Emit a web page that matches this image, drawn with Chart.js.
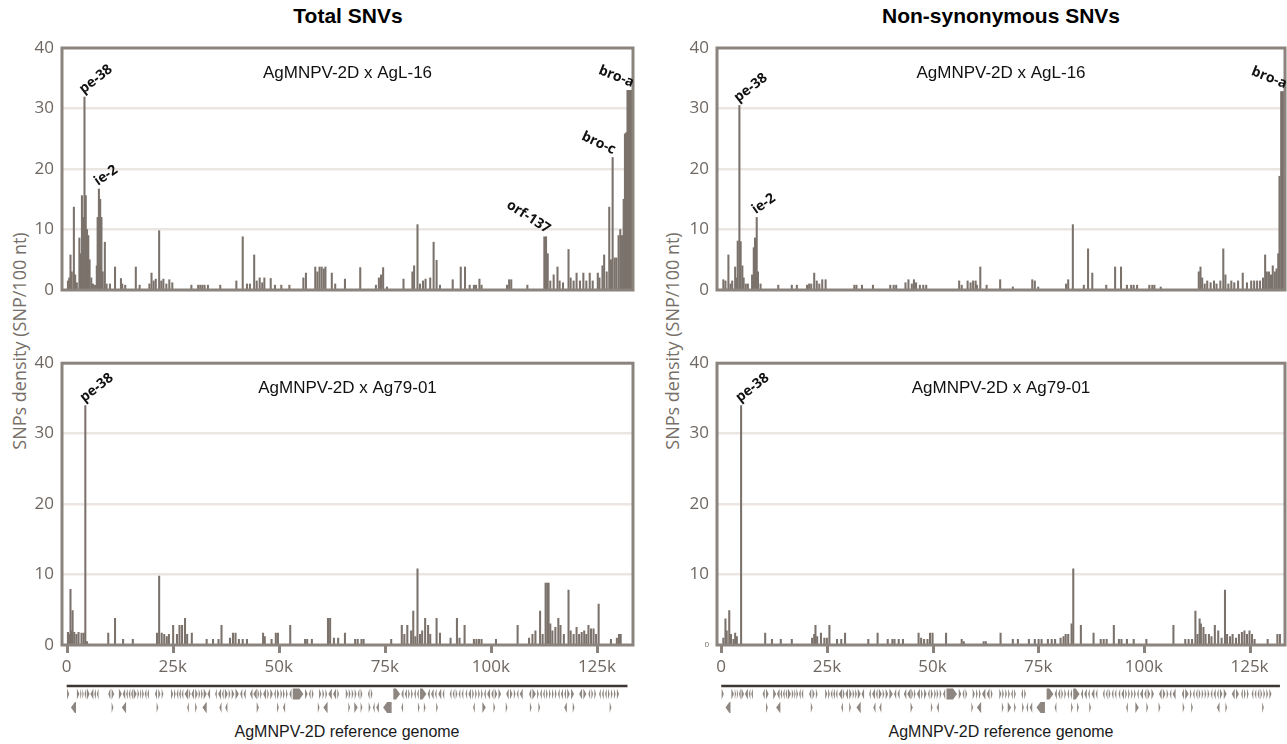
<!DOCTYPE html>
<html><head><meta charset="utf-8">
<script src="https://cdn.jsdelivr.net/npm/chart.js@4.4.1/dist/chart.umd.min.js"></script>
<style>
html,body{margin:0;padding:0;background:#fff;width:1287px;height:744px;overflow:hidden;position:relative}
canvas{position:absolute}
.t{position:absolute;white-space:nowrap;transform:translate(-50%,-50%)}
.title{font:bold 21px "Liberation Sans",Arial,sans-serif;color:#000}
.ytitle{font:18px "Open Sans",sans-serif;color:#776f69;transform:translate(-50%,-50%) rotate(-90deg)}
.xtitle{font:16px "Liberation Sans",Arial,sans-serif;color:#1a1a1a}
</style></head><body>
<div class="t title" style="left:348px;top:16px">Total SNVs</div>
<div class="t title" style="left:1001px;top:16px">Non-synonymous SNVs</div>
<div class="t ytitle" style="left:19px;top:341px">SNPs density (SNP/100 nt)</div>
<div class="t ytitle" style="left:672px;top:341px">SNPs density (SNP/100 nt)</div>
<div class="t xtitle" style="left:347px;top:732px">AgMNPV-2D reference genome</div>
<div class="t xtitle" style="left:1001px;top:732px">AgMNPV-2D reference genome</div>
<canvas id="tl" width="645" height="345" style="left:0;top:0"></canvas>
<canvas id="bl" width="645" height="399" style="left:0;top:345px"></canvas>
<canvas id="tr" width="632" height="345" style="left:655px;top:0"></canvas>
<canvas id="br" width="632" height="399" style="left:655px;top:345px"></canvas>
<script>
// ---------- DATA (position in kb, SNP density per 100 nt) ----------
const xTicks = [0, 25, 50, 75, 100, 125];
const yTicks = [0, 10, 20, 30, 40];
const genomeKb = 132.2;

const totalAgL16 = [[0.3,1.5],[0.6,2.0],[0.9,5.8],[1.2,3.0],[1.7,13.7],[2.0,2.5],[2.4,1.2],[3.0,8.6],[3.3,6.0],[3.6,15.6],[3.9,12.0],[4.2,31.9],[4.5,15.6],[4.8,10.0],[5.1,9.0],[5.4,5.0],[5.8,2.0],[6.2,1.0],[6.7,0.8],[7.1,4.0],[7.3,12.0],[7.6,16.7],[7.9,15.0],[8.2,12.0],[8.5,3.0],[9.0,7.9],[9.4,1.0],[10.2,1.0],[11.4,3.8],[12.8,1.9],[13.1,1.0],[13.8,0.8],[16.3,3.8],[17.2,0.8],[19.5,1.0],[20.0,2.8],[20.5,1.5],[21.0,1.8],[21.8,9.8],[22.3,1.5],[22.8,1.8],[23.5,1.0],[24.2,1.7],[24.9,1.2],[29.4,0.8],[31.0,0.8],[31.5,0.8],[32.0,0.8],[32.5,0.8],[33.3,0.8],[36.2,0.8],[40.0,1.5],[41.5,8.8],[42.5,1.0],[43.2,1.0],[44.2,5.8],[44.8,1.5],[45.5,2.0],[46.1,1.2],[46.6,2.0],[48.1,1.9],[49.1,0.8],[50.6,0.8],[52.5,0.8],[55.8,2.0],[56.4,2.8],[58.6,3.8],[59.1,3.0],[59.6,3.8],[60.1,3.8],[60.6,3.5],[61.0,3.8],[62.5,2.8],[63.3,1.0],[65.6,1.8],[69.2,3.7],[72.9,0.8],[73.6,2.0],[74.1,2.5],[74.6,3.7],[75.5,0.5],[79.4,1.8],[81.5,3.0],[81.9,4.0],[82.7,10.8],[83.3,1.0],[84.0,1.5],[84.6,1.8],[85.7,2.0],[86.5,7.9],[87.2,4.9],[88.0,0.8],[91.0,1.7],[92.9,3.8],[93.9,3.8],[95.0,0.8],[96.0,0.8],[96.5,0.8],[97.3,1.8],[97.8,0.8],[103.8,0.8],[104.3,1.7],[104.8,1.7],[108.6,0.8],[112.6,8.8],[113.0,8.8],[113.4,6.0],[114.0,1.5],[114.8,2.5],[115.7,3.8],[116.2,1.5],[117.0,1.2],[118.3,6.7],[118.8,2.0],[119.5,1.5],[120.2,2.8],[121.0,1.5],[121.8,2.8],[122.5,1.5],[123.3,2.8],[124.0,1.5],[125.2,2.8],[125.6,2.0],[126.3,4.0],[126.7,5.8],[127.3,3.0],[127.9,13.7],[128.3,5.0],[128.7,21.9],[129.2,5.3],[129.6,5.3],[130.1,9.0],[130.5,10.0],[130.9,9.0],[131.3,15.0],[131.6,25.8],[131.9,26.0],[132.2,33.0],[132.5,33.0],[132.8,33.0],[133.1,33.0],[133.4,33.0]];

const totalAg7901 = [[0.3,1.8],[0.6,1.5],[0.9,7.9],[1.1,2.0],[1.4,4.9],[1.8,1.8],[2.3,1.5],[2.8,1.8],[3.5,1.7],[4.0,1.7],[4.4,34.0],[4.8,0.5],[9.8,1.7],[11.4,3.8],[13.3,0.8],[15.6,0.8],[21.3,1.7],[21.8,9.8],[22.4,1.7],[23.0,1.5],[23.6,1.2],[24.1,1.5],[25.1,2.8],[26.0,1.5],[26.6,2.8],[27.2,2.8],[27.9,3.8],[28.4,1.5],[29.5,1.7],[33.0,0.8],[34.5,0.8],[35.8,0.8],[36.5,2.8],[38.5,1.0],[39.2,1.7],[39.8,1.7],[40.6,0.8],[41.5,0.8],[42.5,0.8],[46.3,1.7],[46.7,1.2],[48.3,0.8],[49.3,1.7],[49.8,1.7],[52.7,2.8],[56.2,0.8],[56.7,0.8],[57.8,0.8],[61.6,3.8],[62.1,3.8],[63.0,1.0],[64.0,1.0],[65.6,1.7],[68.0,0.8],[68.6,0.8],[69.5,0.8],[70.0,0.8],[76.5,0.8],[79.0,2.8],[79.6,1.5],[80.3,2.8],[81.2,2.0],[81.7,4.8],[82.2,1.2],[82.7,10.8],[83.3,1.5],[83.8,2.0],[84.5,3.8],[85.2,2.8],[85.7,1.5],[87.2,3.8],[88.0,1.7],[90.5,1.0],[92.0,3.8],[92.6,1.0],[93.8,2.8],[96.0,0.8],[96.6,0.8],[97.2,0.8],[97.8,0.8],[101.2,0.8],[106.3,2.8],[109.0,1.0],[109.8,1.5],[110.5,2.0],[111.6,4.8],[112.2,1.5],[112.9,8.8],[113.3,8.8],[113.6,8.8],[114.0,3.0],[114.5,2.0],[115.2,2.5],[115.9,3.8],[116.4,2.8],[117.2,1.5],[118.3,7.8],[118.8,2.0],[119.5,1.5],[120.2,2.5],[120.8,1.5],[121.4,1.8],[122.0,2.0],[122.5,1.5],[123.0,2.8],[123.6,2.3],[124.2,2.3],[124.8,1.5],[125.4,5.8],[128.3,0.8],[129.7,1.0],[130.2,1.5],[130.6,1.5]];

const nonsynAgL16 = [[0.5,1.7],[1.0,1.5],[1.7,5.8],[2.2,1.0],[2.6,1.5],[3.3,3.8],[3.7,2.0],[3.9,8.1],[4.3,30.5],[4.6,8.0],[5.0,4.0],[5.3,2.0],[5.8,1.0],[6.3,1.0],[7.3,2.5],[7.7,7.0],[8.0,8.6],[8.4,12.0],[8.7,3.0],[9.3,1.0],[13.5,0.8],[16.7,0.8],[17.9,0.8],[20.3,0.8],[20.8,1.0],[21.3,1.0],[22.0,2.8],[22.6,1.5],[23.2,1.0],[23.9,1.7],[24.7,1.7],[31.5,0.8],[32.0,0.8],[33.3,0.8],[35.9,0.8],[40.0,0.8],[40.8,0.8],[41.4,0.8],[43.6,1.2],[44.3,1.7],[45.1,1.0],[45.6,1.7],[46.1,1.2],[47.0,0.8],[47.8,0.8],[48.5,0.8],[56.3,1.5],[56.9,0.8],[58.3,1.5],[59.0,1.2],[59.6,1.5],[60.2,1.5],[60.5,0.8],[61.3,3.8],[62.8,0.8],[66.0,1.7],[69.0,0.5],[73.6,1.7],[74.2,1.5],[75.0,0.5],[81.6,1.0],[82.1,1.7],[83.2,10.8],[85.8,0.8],[86.8,6.8],[87.8,2.8],[91.1,0.8],[93.2,3.8],[94.6,3.8],[96.0,0.8],[97.0,0.8],[97.6,0.8],[98.4,0.8],[101.3,0.8],[102.0,0.8],[102.5,0.8],[104.0,0.5],[113.0,3.0],[113.4,3.8],[113.8,2.0],[114.4,1.0],[115.0,1.5],[115.8,1.2],[116.6,1.5],[117.2,1.0],[118.1,1.5],[118.8,6.8],[119.3,2.5],[120.0,1.0],[120.7,1.5],[121.4,1.2],[122.3,1.5],[123.4,2.8],[124.4,1.2],[125.4,1.5],[126.1,1.5],[126.8,1.5],[127.5,1.5],[128.2,2.0],[128.7,5.8],[129.1,3.0],[129.6,3.0],[130.1,2.5],[130.5,4.0],[131.0,3.0],[131.4,3.5],[131.8,6.0],[132.1,18.8],[132.5,32.8],[132.8,32.8],[133.1,32.8],[133.4,32.8]];

const nonsynAg7901 = [[0.5,1.0],[1.0,3.7],[1.3,2.0],[1.9,4.9],[2.3,1.5],[2.9,0.8],[3.3,1.7],[3.7,1.2],[4.7,34.0],[10.4,1.7],[12.0,0.8],[14.1,0.8],[16.7,0.8],[21.5,1.0],[22.0,1.5],[22.3,2.8],[22.7,1.2],[23.6,1.7],[24.4,1.0],[25.0,1.0],[25.6,2.8],[27.4,0.8],[28.4,0.8],[29.3,1.7],[34.8,0.8],[37.0,1.7],[39.4,0.8],[40.5,0.8],[41.0,0.8],[42.0,0.8],[43.0,0.8],[46.7,1.7],[47.3,1.0],[48.0,0.8],[48.8,0.8],[49.4,1.7],[50.0,1.7],[53.2,1.7],[56.9,0.8],[57.4,0.5],[62.1,0.5],[62.6,0.5],[66.1,1.7],[69.0,0.8],[70.2,0.8],[72.8,0.8],[74.2,0.8],[75.1,0.8],[75.8,0.8],[77.3,0.8],[78.2,0.8],[79.0,0.8],[80.3,1.0],[81.0,1.2],[81.5,1.5],[82.1,1.5],[82.9,3.0],[83.3,10.8],[85.1,2.8],[88.1,1.7],[89.8,0.8],[90.5,0.8],[91.2,0.8],[92.9,2.8],[94.1,0.8],[94.7,0.8],[96.0,0.8],[97.6,0.8],[100.6,0.8],[107.0,2.8],[109.8,0.8],[110.6,0.8],[111.4,0.8],[112.2,4.8],[112.7,1.5],[113.2,3.7],[113.5,3.0],[114.1,2.5],[114.6,1.5],[115.4,1.5],[116.0,1.2],[116.8,2.8],[117.6,2.0],[118.4,1.0],[119.2,7.8],[119.7,1.5],[120.4,1.2],[121.0,1.5],[121.8,1.0],[122.5,1.5],[123.2,1.8],[123.8,2.0],[124.4,1.5],[125.0,2.0],[125.6,1.5],[126.2,0.8],[129.3,0.8],[131.6,1.5],[132.2,1.5]];

// gene labels: [name, kb, density]
const peaksTotalAgL16 = [['pe-38',4.2,31.9],['ie-2',7.6,16.7],['orf-137',113.0,8.8],['bro-c',128.7,21.9],['bro-a',133.2,33.0]];
const peaksNonsynAgL16 = [['pe-38',4.3,30.5],['ie-2',8.4,12.0],['bro-a',133.3,32.8]];
const peaksTotalAg7901 = [['pe-38',4.4,34.0]];
const peaksNonsynAg7901 = [['pe-38',4.7,34.0]];

// genome ORFs: [start kb, end kb, strand, row]
const genes = [[0.1,0.6,1,1],[2.4,3.0,1,1],[3.2,3.5,1,1],[3.7,4.0,1,1],[4.2,4.6,-1,1],[4.8,5.4,1,1],[5.6,6.3,-1,1],[6.5,6.9,-1,1],[7.1,7.5,-1,1],[9.8,10.3,-1,1],[10.6,11.2,1,1],[12.3,13.0,1,1],[13.2,13.8,-1,1],[14.0,14.4,-1,1],[14.6,15.0,-1,1],[15.2,15.6,-1,1],[15.8,16.5,1,1],[16.7,17.1,1,1],[17.3,17.6,1,1],[17.8,18.2,1,1],[18.4,18.8,-1,1],[19.0,19.4,-1,1],[20.8,21.3,-1,1],[21.6,22.1,1,1],[22.4,22.8,1,1],[24.6,25.1,1,1],[25.3,25.7,1,1],[25.9,26.3,-1,1],[26.5,26.9,-1,1],[27.1,27.5,-1,1],[27.8,28.6,-1,1],[28.8,29.2,1,1],[29.4,30.0,-1,1],[30.3,30.9,1,1],[31.1,31.5,1,1],[31.7,32.1,1,1],[32.3,33.0,1,1],[33.2,33.8,-1,1],[35.0,35.4,-1,1],[35.7,36.4,-1,1],[36.6,37.0,-1,1],[37.3,38.0,1,1],[38.2,38.6,1,1],[38.9,39.5,1,1],[39.8,40.6,1,1],[40.9,41.4,-1,1],[41.7,42.2,-1,1],[43.2,43.8,-1,1],[44.0,44.8,-1,1],[45.0,45.4,1,1],[45.6,46.0,1,1],[46.3,47.0,-1,1],[47.3,47.7,1,1],[48.0,48.6,1,1],[48.9,49.3,-1,1],[49.6,50.1,1,1],[50.4,50.8,1,1],[51.0,51.4,1,1],[51.7,52.1,1,1],[52.5,53.0,-1,1],[53.3,55.8,1,1],[56.2,56.8,1,1],[57.1,57.5,-1,1],[57.8,58.2,1,1],[59.5,60.0,1,1],[60.3,60.7,1,1],[61.0,61.4,1,1],[61.7,62.5,-1,1],[62.8,63.5,-1,1],[63.8,64.2,1,1],[65.8,66.3,1,1],[66.5,66.9,1,1],[67.2,67.6,1,1],[67.9,68.3,1,1],[68.6,69.0,-1,1],[69.3,69.7,1,1],[71.0,71.4,-1,1],[71.7,72.1,1,1],[77.0,78.6,1,1],[78.9,79.4,-1,1],[79.7,80.2,-1,1],[80.5,80.9,1,1],[81.2,81.6,1,1],[81.9,82.3,-1,1],[82.6,83.0,-1,1],[83.3,84.8,1,1],[85.1,85.6,-1,1],[85.9,86.5,-1,1],[86.8,87.2,-1,1],[87.6,88.3,-1,1],[88.6,89.0,-1,1],[90.3,90.7,-1,1],[91.0,91.4,-1,1],[91.7,92.1,1,1],[92.4,92.8,-1,1],[93.1,93.5,-1,1],[94.0,94.4,-1,1],[94.7,95.3,-1,1],[95.6,96.0,1,1],[96.3,96.7,1,1],[97.0,97.4,1,1],[97.7,98.1,1,1],[98.4,98.8,-1,1],[99.1,99.8,-1,1],[100.1,100.6,-1,1],[100.9,101.5,1,1],[101.8,102.4,1,1],[103.6,104.2,-1,1],[104.5,105.1,1,1],[105.4,105.8,1,1],[106.1,106.5,-1,1],[106.8,107.5,-1,1],[109.0,109.5,-1,1],[109.8,110.6,1,1],[110.9,111.3,1,1],[111.6,112.0,-1,1],[112.3,112.7,-1,1],[113.0,113.4,1,1],[113.7,114.1,1,1],[114.4,114.8,1,1],[115.1,115.5,1,1],[115.8,116.2,-1,1],[116.5,117.0,-1,1],[117.3,117.7,-1,1],[118.0,118.6,1,1],[118.9,119.6,1,1],[120.8,121.5,-1,1],[121.8,122.5,1,1],[123.0,123.4,-1,1],[123.7,124.1,1,1],[124.4,124.8,1,1],[125.5,125.9,-1,1],[126.2,126.6,-1,1],[126.9,127.3,-1,1],[127.6,128.0,1,1],[128.3,128.7,1,1],[129.0,129.4,1,1],[129.7,130.2,1,1],
[1.0,2.2,-1,2],[10.6,11.0,1,2],[13.0,14.0,-1,2],[21.2,21.6,1,2],[28.4,28.8,-1,2],[30.3,30.7,1,2],[32.0,33.0,-1,2],[36.0,36.5,-1,2],[37.4,37.9,-1,2],[44.8,45.3,1,2],[49.6,50.0,1,2],[51.0,51.5,-1,2],[59.2,59.6,1,2],[60.5,61.5,-1,2],[66.4,66.8,1,2],[67.8,68.6,1,2],[69.3,69.7,1,2],[71.2,71.6,1,2],[72.2,72.6,-1,2],[73.0,73.6,-1,2],[74.6,76.6,-1,2],[78.9,79.3,-1,2],[82.8,83.2,1,2],[84.2,84.6,1,2],[87.1,87.5,1,2],[95.8,96.2,-1,2],[98.0,98.8,1,2],[100.6,101.0,1,2],[103.5,103.9,1,2],[109.2,109.6,1,2],[111.2,111.6,1,2],[117.3,117.9,-1,2],[119.3,119.7,1,2],[128.0,128.4,1,2]];

// ---------- STYLE ----------
const BAR = '#7b726c', BOX = '#8b837d', GRID = '#ece6e3', TICK = '#6f6761';
const labelStyle = {'pe-38':[-38,'left'],'ie-2':[-35,'left'],'orf-137':[33,'right'],'bro-c':[25,'right'],'bro-a':[22,'right']};

const annot = {
  id: 'annot',
  afterDraw(chart, args, o) {
    const {ctx, chartArea: a, scales} = chart;
    ctx.save();
    ctx.strokeStyle = BOX; ctx.lineWidth = 3;
    ctx.strokeRect(a.left, a.top, a.right - a.left, a.bottom - a.top);
    ctx.fillStyle = '#111';
    ctx.font = '17px "Liberation Sans", Arial, sans-serif';
    ctx.textAlign = 'center'; ctx.textBaseline = 'middle';
    ctx.fillText(o.subtitle, (a.left + a.right) / 2, a.top + 25);
    ctx.font = 'bold 14px "Open Sans", sans-serif';
    for (const [name, x, y] of o.peaks) {
      const [ang, align] = labelStyle[name];
      const px = scales.x.getPixelForValue(x), py = scales.y.getPixelForValue(y);
      ctx.save(); ctx.translate(px, py); ctx.rotate(ang * Math.PI / 180);
      ctx.textAlign = align; ctx.textBaseline = 'alphabetic';
      ctx.fillText(name, align === 'left' ? 1 : -1, -3);
      ctx.restore();
    }
    if (o.track) {
      // x tick marks
      ctx.strokeStyle = BOX; ctx.lineWidth = 3;
      for (const v of xTicks) {
        const px = Math.round(scales.x.getPixelForValue(v)) + 0.5;
        ctx.beginPath(); ctx.moveTo(px, a.bottom + 1); ctx.lineTo(px, a.bottom + 8); ctx.stroke();
      }
      const ly = a.bottom + 41;
      ctx.strokeStyle = '#3d3632'; ctx.lineWidth = 2.5;
      ctx.beginPath();
      ctx.moveTo(scales.x.getPixelForValue(0), ly);
      ctx.lineTo(scales.x.getPixelForValue(genomeKb), ly);
      ctx.stroke();
      ctx.fillStyle = '#8e8680';
      for (const [s, e, strand, row] of genes) {
        const x1 = scales.x.getPixelForValue(s), x2 = scales.x.getPixelForValue(e);
        const yc = ly + (row === 1 ? 8 : 21.5), h = 5.5;
        const tip = Math.min(4, x2 - x1);
        ctx.beginPath();
        if (strand > 0) {
          ctx.moveTo(x1, yc - h); ctx.lineTo(x2 - tip, yc - h); ctx.lineTo(x2, yc);
          ctx.lineTo(x2 - tip, yc + h); ctx.lineTo(x1, yc + h);
        } else {
          ctx.moveTo(x2, yc - h); ctx.lineTo(x1 + tip, yc - h); ctx.lineTo(x1, yc);
          ctx.lineTo(x1 + tip, yc + h); ctx.lineTo(x2, yc + h);
        }
        ctx.closePath(); ctx.fill();
      }
    }
    ctx.restore();
  }
};

function panel(id, series, peaks, subtitle, bottom, xmin, xmax, padR, tinyZero) {
  return new Chart(document.getElementById(id), {
    type: 'bar',
    data: { datasets: [{ data: series.map(([x, y]) => ({x, y})), backgroundColor: BAR,
      barThickness: 1.4, borderWidth: 0, grouped: false }] },
    options: {
      responsive: false, animation: false, devicePixelRatio: 1,
      layout: { padding: { top: bottom ? 13 : 48, right: padR, bottom: bottom ? 54 : 10, left: 0 } },
      plugins: { legend: { display: false }, tooltip: { enabled: false },
        annot: { subtitle, peaks, track: bottom } },
      scales: {
        x: { type: 'linear', min: xmin, max: xmax, offset: false, display: bottom,
          afterBuildTicks: s => { s.ticks = xTicks.map(v => ({value: v})); },
          afterFit: s => { s.height = 45; },
          grid: { display: false, tickLength: 8 },
          border: { display: false },
          ticks: { color: TICK, font: { family: '"Open Sans", sans-serif', size: 17 }, padding: 4,
            maxRotation: 0, autoSkip: false, callback: v => v === 0 ? '0' : v + 'k' } },
        y: { min: 0, max: 40,
          afterBuildTicks: s => { s.ticks = yTicks.map(v => ({value: v})); },
          afterFit: s => { s.width = 62; },
          grid: { drawTicks: false, lineWidth: 2.5,
            color: c => (c.tick && (c.tick.value === 0 || c.tick.value === 40)) ? 'rgba(0,0,0,0)' : GRID },
          border: { display: false },
          ticks: { color: TICK, padding: 8,
            font: c => ({ family: '"Open Sans", sans-serif',
              size: (tinyZero && c.tick && c.tick.value === 0) ? 8 : 17 }) } }
      }
    },
    plugins: [annot]
  });
}

panel('tl', totalAgL16, peaksTotalAgL16, 'AgMNPV-2D x AgL-16', false, -1.1, 133.5, 12, false);
panel('bl', totalAg7901, peaksTotalAg7901, 'AgMNPV-2D x Ag79-01', true, -1.1, 133.5, 12, false);
panel('tr', nonsynAgL16, peaksNonsynAgL16, 'AgMNPV-2D x AgL-16', false, -1.0, 133.4, 2, false);
panel('br', nonsynAg7901, peaksNonsynAg7901, 'AgMNPV-2D x Ag79-01', true, -1.0, 133.4, 2, true);
</script>
</body></html>
